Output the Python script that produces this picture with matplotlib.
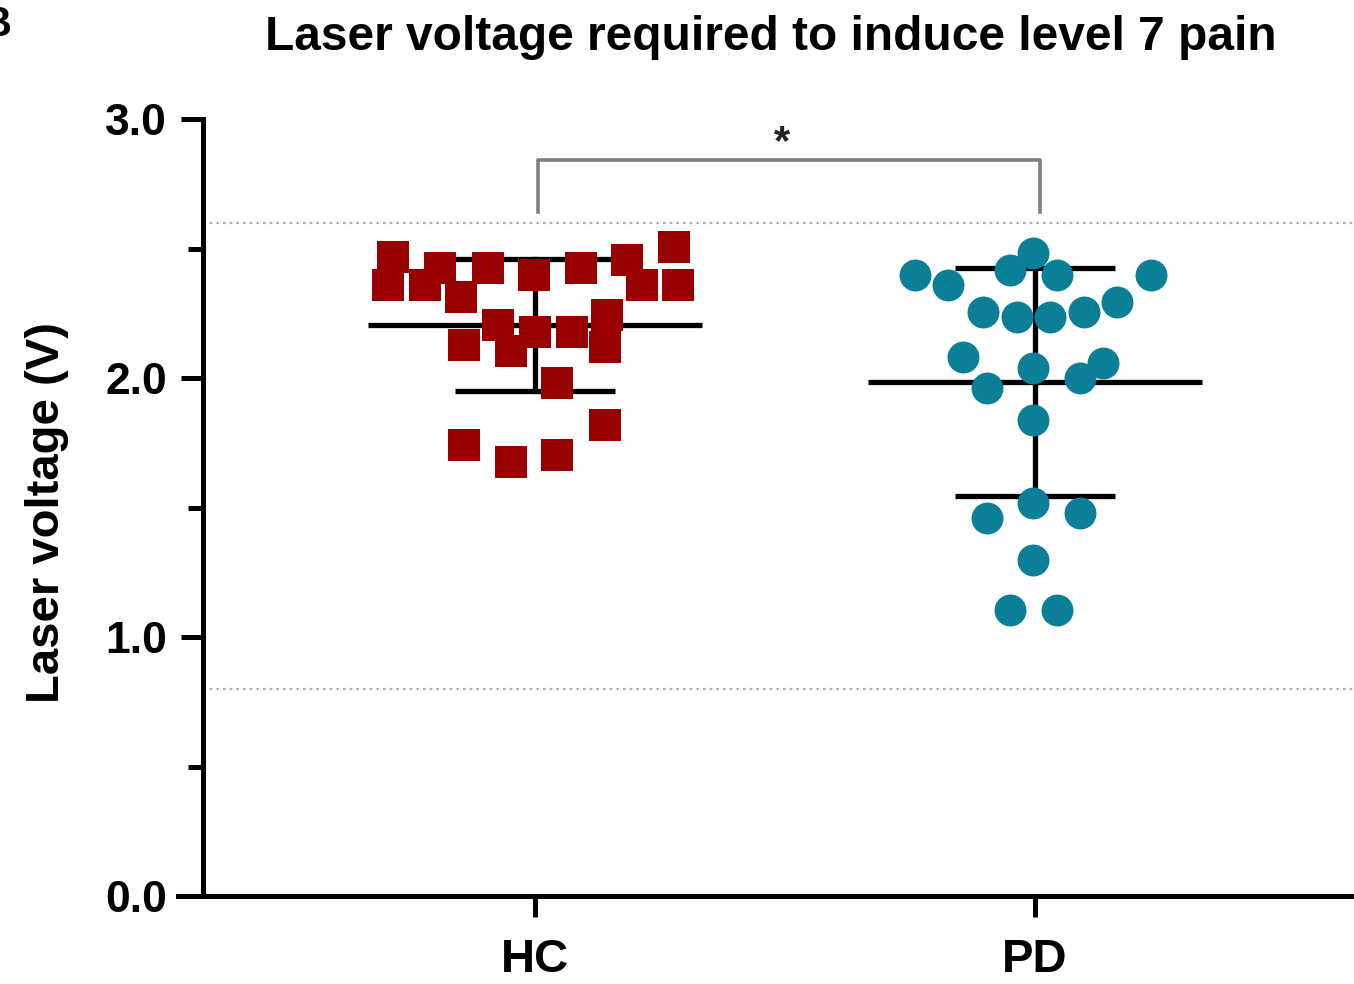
import numpy as np
import matplotlib
matplotlib.use("Agg")
import matplotlib.pyplot as plt

plt.rcParams['font.family'] = ['Liberation Sans', 'DejaVu Sans']
plt.rcParams['font.weight'] = 'bold'

# ---- data ----
groups = ["HC", "PD"]
hc_values = [2.467, 2.359, 2.359, 2.425, 2.313, 2.425, 2.398, 2.425, 2.456, 2.359,
             2.506, 2.359, 2.127, 2.205, 2.104, 2.178, 2.178, 2.243, 2.120, 1.981,
             1.741, 1.676, 1.703, 1.819]
hc_jitter = [-0.284, -0.294, -0.22, -0.19, -0.148, -0.094, -0.002, 0.092, 0.184, 0.214,
             0.278, 0.286, -0.142, -0.074, -0.048, 0.0, 0.074, 0.144, 0.14, 0.044,
             -0.142, -0.048, 0.044, 0.14]
pd_values = [2.398, 2.359, 2.417, 2.483, 2.398, 2.398, 2.255, 2.236, 2.236, 2.255,
             2.293, 2.081, 2.039, 2.058, 1.961, 2.000, 1.838, 1.517, 1.459, 1.479,
             1.297, 1.104, 1.104]
pd_jitter = [-0.24, -0.174, -0.05, -0.004, 0.044, 0.232, -0.104, -0.036, 0.03, 0.098,
             0.164, -0.144, -0.004, 0.136, -0.096, 0.09, -0.004, -0.004, -0.096, 0.09,
             -0.004, -0.05, 0.044]
ref_lines = [2.6, 0.8]
bracket_low, bracket_high = 2.64, 2.84
sig_label = "*"
title = "Laser voltage required to induce level 7 pain"
ylabel = "Laser voltage (V)"
yticks_major = [0.0, 1.0, 2.0, 3.0]
yticks_minor = [0.5, 1.5, 2.5]

# ---- figure ----
fig = plt.figure(figsize=(13.54, 9.84), dpi=100)
ax = fig.add_axes([203/1354, 1-896/984, 1-203/1354, (896-119)/984])

xpos = [1, 2]
ax.set_xlim(0.336, 2.638)
ax.set_ylim(0, 3.0)

for y in ref_lines:
    ax.axhline(y, color='#b0b0b0', lw=1.6, ls=(0, (1.2, 1.8)), zorder=1)

# mean +/- SD lines
for xc, vals in zip(xpos, [hc_values, pd_values]):
    m = np.mean(vals)
    sd = np.std(vals, ddof=1)
    ax.plot([xc - 0.334, xc + 0.334], [m, m], color='black', lw=3.8, zorder=2,
            solid_capstyle='butt')
    ax.plot([xc, xc], [m - sd, m + sd], color='black', lw=3.8, zorder=2)
    for yy in (m - sd, m + sd):
        ax.plot([xc - 0.16, xc + 0.16], [yy, yy], color='black', lw=3.8, zorder=2,
                solid_capstyle='butt')

ax.plot(np.array(hc_jitter) + xpos[0], hc_values, ls='none', marker='s',
        markersize=22.5, color='#990000', markeredgewidth=0, zorder=3)
ax.plot(np.array(pd_jitter) + xpos[1], pd_values, ls='none', marker='o',
        markersize=23, color='#0b7f96', markeredgewidth=0, zorder=3)

# significance bracket
bx0, bx1 = xpos[0] + 0.006, xpos[1] + 0.01
ax.plot([bx0, bx0, bx1, bx1], [bracket_low, bracket_high, bracket_high, bracket_low],
        color='#808080', lw=2.6, zorder=2, clip_on=False)
ax.text((bx0 + bx1) / 2 - 0.014, bracket_high - 0.01, sig_label, ha='center', va='bottom',
        fontsize=30, fontweight='bold', color='#222222')

# axes styling
for s in ['top', 'right']:
    ax.spines[s].set_visible(False)
for s in ['left', 'bottom']:
    ax.spines[s].set_linewidth(3.6)
ax.spines['bottom'].set_bounds(ax.get_xlim()[0] - 0.05, ax.get_xlim()[1])

ax.set_yticks(yticks_major)
ax.set_yticklabels([f"{v:.1f}" for v in yticks_major])
ax.set_yticks(yticks_minor, minor=True)
ax.set_xticks(xpos)
ax.set_xticklabels(groups)
ax.tick_params(axis='y', which='major', length=16, width=3.6, labelsize=32, pad=10)
ax.tick_params(axis='y', which='minor', length=11, width=3.6)
ax.tick_params(axis='x', which='major', length=15, width=3.6, labelsize=34, pad=15)
for lab in ax.get_xticklabels() + ax.get_yticklabels():
    lab.set_fontweight('bold')

ax.set_ylabel(ylabel, fontsize=34, fontweight='bold')
ax.yaxis.set_label_coords(-0.116, 0.494)

fig.text(0.569, 0.962, title, ha='center', va='center', fontsize=34.5, fontweight='bold')
fig.text(-0.014, 0.975, "B", ha='left', va='center', fontsize=30, fontweight='bold')

fig.savefig("out.png", dpi=100)
